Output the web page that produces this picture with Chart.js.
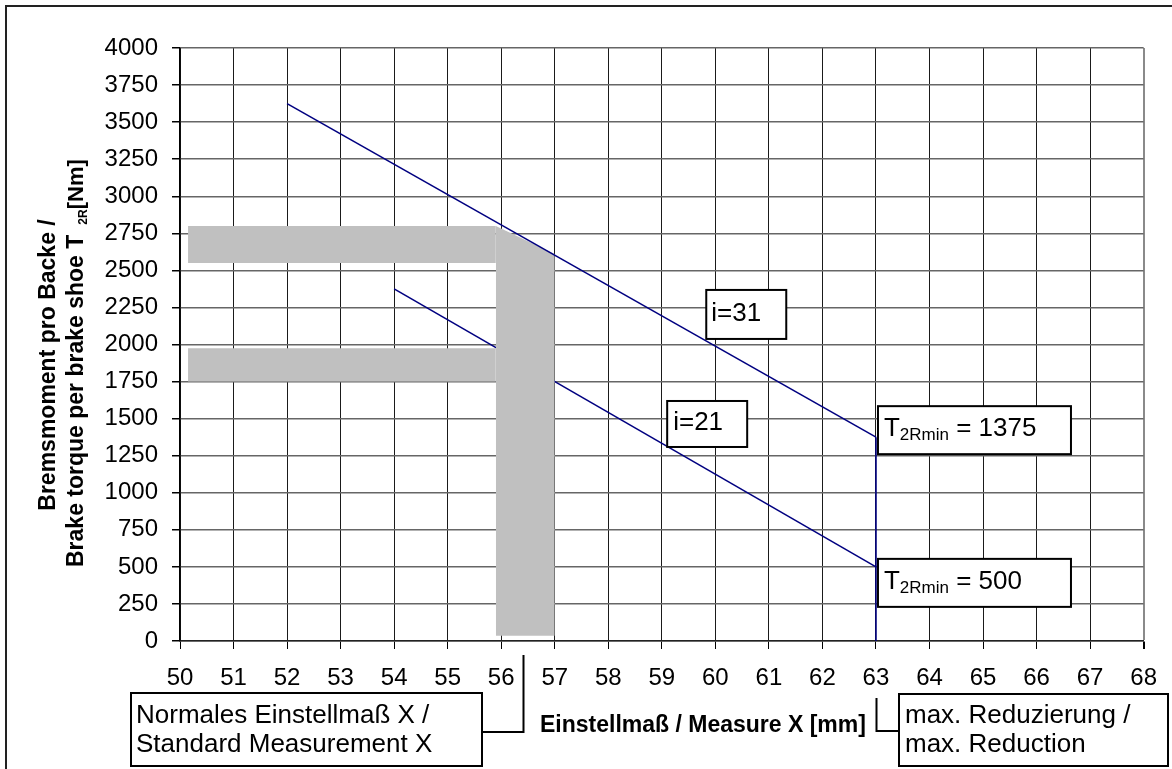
<!DOCTYPE html>
<html>
<head>
<meta charset="utf-8">
<script src="https://cdn.jsdelivr.net/npm/chart.js@4.4.1/dist/chart.umd.min.js"></script>
<style>
html,body{margin:0;padding:0;background:#fff;overflow:hidden}
#wrap{position:relative;width:1172px;height:769px}
</style>
</head>
<body>
<div id="wrap"><canvas id="c" width="1172" height="769"></canvas></div>
<script>
// ---- data ----
const xTickLabels = [50,51,52,53,54,55,56,57,58,59,60,61,62,63,64,65,66,67,68];
const yTickLabels = [0,250,500,750,1000,1250,1500,1750,2000,2250,2500,2750,3000,3250,3500,3750,4000];

const seriesLabels = ['i=31', 'i=21'];
const i31X = [52, 63];
const i31Y = [3625, 1375];
const i21X = [54, 63];
const i21Y = [2375, 500];
const limitX = [63, 63];
const limitY = [1375, 0];

// grey bands (standard measurement zone)
const upperBandX = [50.15, 55.9];
const upperBandTop = [2800, 2800];
const upperBandBottom = 2550;
const lowerBandX = [50.15, 55.9];
const lowerBandTop = [1975, 1975];
const lowerBandBottom = 1750;
const standardBandX = [55.9, 57];
const standardBandTop = [2800, 2610];
const standardBandBottom = 35;
const standardMarkX = 56.4;

const FONT = '"Liberation Sans", Arial, Helvetica, sans-serif';
const pts = (xs, ys) => xs.map((x, i) => ({x: x, y: ys[i]}));

const annot = {
  id: 'annot',
  afterDraw(chart) {
    const ctx = chart.ctx;
    const xs = chart.scales.x, ys = chart.scales.y;
    ctx.save();
    // outer frame (top + left)
    ctx.strokeStyle = '#222';
    ctx.lineWidth = 2;
    ctx.beginPath();
    ctx.moveTo(6, 769); ctx.lineTo(6, 6); ctx.lineTo(1172, 6);
    ctx.stroke();

    const box = (l, t, w, h) => {
      ctx.fillStyle = '#fff';
      ctx.fillRect(l, t, w, h);
      ctx.strokeStyle = '#000';
      ctx.lineWidth = 2;
      ctx.strokeRect(l, t, w, h);
    };
    ctx.fillStyle = '#000';
    ctx.textBaseline = 'alphabetic';
    ctx.textAlign = 'left';

    // series labels
    let bx = xs.getPixelForValue(59.83), by = ys.getPixelForValue(2368);
    box(bx, by, 80, 49);
    ctx.fillStyle = '#000'; ctx.font = '26px ' + FONT;
    ctx.fillText(seriesLabels[0], bx + 5, by + 31);

    bx = xs.getPixelForValue(59.1); by = ys.getPixelForValue(1619);
    box(bx, by, 80, 46);
    ctx.fillStyle = '#000'; ctx.font = '26px ' + FONT;
    ctx.fillText(seriesLabels[1], bx + 6, by + 29);

    // T2Rmin labels
    const drawT = (l, t, val) => {
      box(l, t, 193, 48);
      ctx.fillStyle = '#000';
      let x = l + 6, b = t + 30;
      ctx.font = '26px ' + FONT;
      ctx.fillText('T', x, b); x += ctx.measureText('T').width;
      ctx.font = '17px ' + FONT;
      ctx.fillText('2Rmin', x, b + 4); x += ctx.measureText('2Rmin').width;
      ctx.font = '26px ' + FONT;
      ctx.fillText(' = ' + val, x, b);
    };
    const tl = xs.getPixelForValue(limitX[0]) + 2;
    drawT(tl, ys.getPixelForValue(i31Y[1]) - 31, i31Y[1]);
    drawT(tl, ys.getPixelForValue(i21Y[1]) - 8, i21Y[1]);

    // bottom call-out boxes
    box(131, 693, 351, 73);
    ctx.fillStyle = '#000'; ctx.font = '26px ' + FONT;
    ctx.fillText('Normales Einstellmaß X /', 136, 723);
    ctx.fillText('Standard Measurement X', 136, 752);
    const sx = Math.round(xs.getPixelForValue(standardMarkX)) + 0.5;
    ctx.strokeStyle = '#000'; ctx.lineWidth = 2;
    ctx.beginPath(); ctx.moveTo(482, 732); ctx.lineTo(sx, 732); ctx.lineTo(sx, 655); ctx.stroke();

    box(899, 694, 269, 72);
    ctx.fillStyle = '#000'; ctx.font = '26px ' + FONT;
    ctx.fillText('max. Reduzierung /', 905, 723);
    ctx.fillText('max. Reduction', 905, 752);
    const rx = Math.round(xs.getPixelForValue(limitX[0])) + 0.5;
    ctx.strokeStyle = '#000'; ctx.lineWidth = 2;
    ctx.beginPath(); ctx.moveTo(rx, 698); ctx.lineTo(rx, 731); ctx.lineTo(899, 731); ctx.stroke();

    // x axis title
    ctx.fillStyle = '#000';
    ctx.font = 'bold 23px ' + FONT;
    ctx.fillText('Einstellmaß / Measure X [mm]', 540, 732);

    // y axis title (rotated)
    ctx.save();
    ctx.translate(55, 365);
    ctx.rotate(-Math.PI / 2);
    ctx.textAlign = 'center';
    ctx.font = 'bold 23px ' + FONT;
    ctx.fillText('Bremsmoment pro Backe /', 0, 0);
    ctx.restore();

    ctx.save();
    ctx.translate(83, 567);
    ctx.rotate(-Math.PI / 2);
    ctx.textAlign = 'left';
    ctx.font = 'bold 23px ' + FONT;
    const main = 'Brake torque per brake shoe T';
    ctx.fillText(main, 0, 0);
    let px = ctx.measureText(main).width + 10;
    ctx.font = 'bold 12px ' + FONT;
    ctx.fillText('2R', px, 4);
    px += ctx.measureText('2R').width;
    ctx.font = 'bold 22px ' + FONT;
    ctx.fillText('[Nm]', px, 0);
    ctx.restore();

    ctx.restore();
  }
};

new Chart(document.getElementById('c'), {
  type: 'line',
  data: {
    datasets: [
      {label: seriesLabels[0], data: pts(i31X, i31Y), borderColor: '#000080', borderWidth: 1.6, pointRadius: 0, fill: false, order: 0},
      {label: 'limit', data: pts(limitX, limitY), borderColor: '#000080', borderWidth: 1.6, pointRadius: 0, fill: false, order: 0},
      {label: 'upper band', data: pts(upperBandX, upperBandTop), borderWidth: 0, borderColor: 'rgba(0,0,0,0)', backgroundColor: '#c0c0c0', pointRadius: 0, fill: {value: upperBandBottom}, order: 1},
      {label: 'lower band', data: pts(lowerBandX, lowerBandTop), borderWidth: 0, borderColor: 'rgba(0,0,0,0)', backgroundColor: '#c0c0c0', pointRadius: 0, fill: {value: lowerBandBottom}, order: 1},
      {label: 'standard band', data: pts(standardBandX, standardBandTop), borderWidth: 0, borderColor: 'rgba(0,0,0,0)', backgroundColor: '#c0c0c0', pointRadius: 0, fill: {value: standardBandBottom}, order: 1},
      {label: seriesLabels[1], data: pts(i21X, i21Y), borderColor: '#000080', borderWidth: 1.6, pointRadius: 0, fill: false, order: 2}
    ]
  },
  options: {
    responsive: false,
    animation: false,
    layout: {padding: {top: 48, right: 27, left: 0, bottom: 0}},
    plugins: {legend: {display: false}, tooltip: {enabled: false}},
    scales: {
      x: {
        type: 'linear', min: 50, max: 68,
        afterBuildTicks: s => { s.ticks = xTickLabels.map(v => ({value: v})); },
        afterFit: s => { s.height = 128; },
        grid: {color: c => c.index === xTickLabels.length - 1 ? '#8a8a8a' : '#1a1a1a', lineWidth: c => c.index === xTickLabels.length - 1 ? 2 : 1, tickLength: 8, tickColor: '#000'},
        border: {color: '#222', width: 1.5},
        ticks: {color: '#000', font: {family: FONT, size: 24}, padding: 15, maxRotation: 0, autoSkip: false, callback: v => String(v)}
      },
      y: {
        type: 'linear', min: 0, max: 4000,
        afterBuildTicks: s => { s.ticks = yTickLabels.map(v => ({value: v})); },
        afterFit: s => { s.width = 180; },
        grid: {color: '#666', lineWidth: 1.5, tickLength: 8, tickColor: '#000'},
        border: {color: '#000', width: 1.5},
        ticks: {color: '#000', font: {family: FONT, size: 24}, padding: 14, autoSkip: false, callback: v => String(v)}
      }
    }
  },
  plugins: [annot]
});
</script>
</body>
</html>
